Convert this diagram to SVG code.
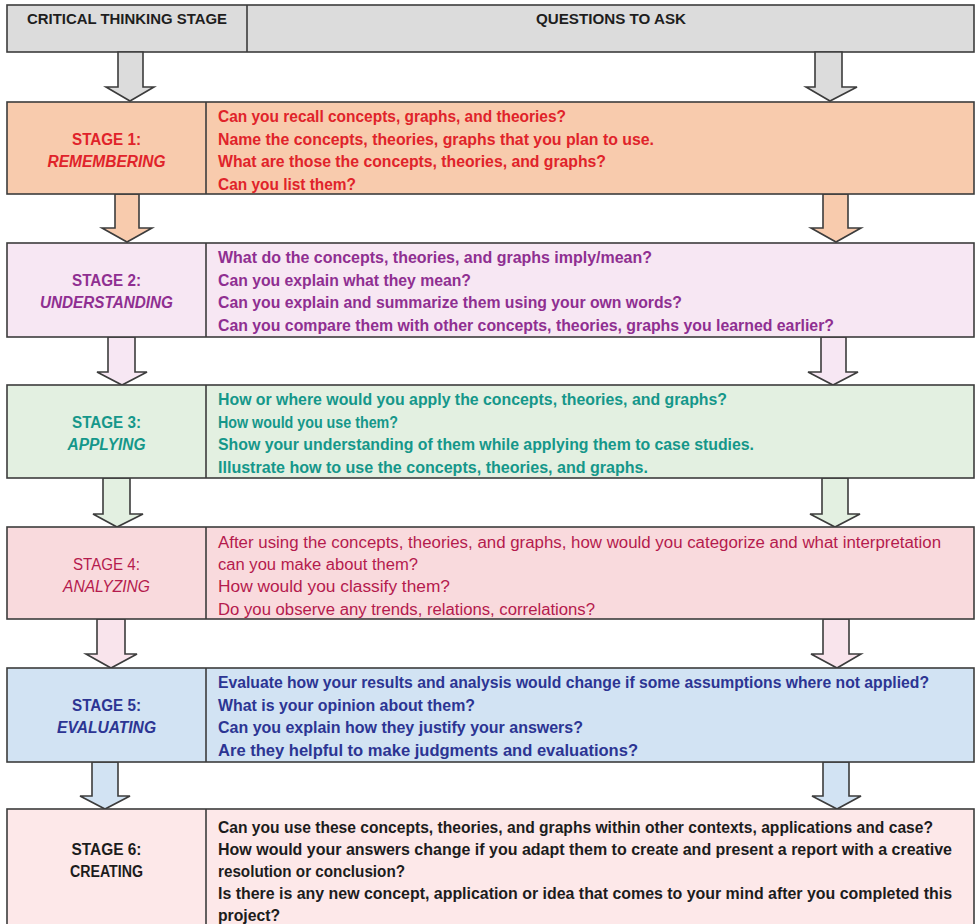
<svg xmlns="http://www.w3.org/2000/svg" width="976" height="924" viewBox="0 0 976 924">
<style>
text{font-family:"Liberation Sans",Arial,sans-serif;font-size:16px;font-weight:bold}
.box{stroke:#3c3c3c;stroke-width:1.6}
.div{stroke:#3c3c3c;stroke-width:1.6;fill:none}
.arr{stroke:#3c3c3c;stroke-width:1.6;stroke-linejoin:miter}
.hd{font-size:14px;fill:#1e1e1e}
.lbl{text-anchor:middle}
.it{font-style:italic}
.c1{fill:#e0232a}.c2{fill:#8f2f91}.c3{fill:#15978a}.c4{fill:#b51b4d;font-weight:normal}.c5{fill:#2c3593}.c6{fill:#1c1c1c}
.f0{fill:#dcdcdc}.f1{fill:#f8cbad}.f2{fill:#f7e7f3}.f3{fill:#e3f0e1}.f4{fill:#f9dadd}.f4a{fill:#f9e4ec}.f5{fill:#d2e3f3}.f6{fill:#fde8e9}
</style>

<g id="header">
<rect class="box f0" x="7" y="5" width="967" height="47"/>
<line class="div" x1="247" y1="5" x2="247" y2="52"/>
<text class="hd lbl" x="127" y="24" textLength="200" lengthAdjust="spacingAndGlyphs">CRITICAL THINKING STAGE</text>
<text class="hd lbl" x="611" y="24" textLength="150" lengthAdjust="spacingAndGlyphs">QUESTIONS TO ASK</text>
</g>

<g id="connectors">
<path class="arr f0" d="M118 52H143V87H154L130 101L106 87H118Z"/>
<path class="arr f0" d="M815 52H842V87H857L830 101L806 87H815Z"/>
<path class="arr f1" d="M115 194H139V228H152L127 242L102 228H115Z"/>
<path class="arr f1" d="M823 194H848V228H861L836 242L811 228H823Z"/>
<path class="arr f2" d="M108 337H135V372H147L122 385L97 372H108Z"/>
<path class="arr f2" d="M821 337H846V372H858L833 385L808 372H821Z"/>
<path class="arr f3" d="M103 478H130V514H143L117 527L93 514H103Z"/>
<path class="arr f3" d="M822 478H848V514H860L835 527L810 514H822Z"/>
<path class="arr f4a" d="M97 619H125V654H137L111 668L86 654H97Z"/>
<path class="arr f4a" d="M823 619H849V654H861L837 668L811 654H823Z"/>
<path class="arr f5" d="M92 762H118V796H130L105 809L80 796H92Z"/>
<path class="arr f5" d="M823 762H849V796H861L837 809L812 796H823Z"/>
</g>

<g id="stage1">
<rect class="box f1" x="7" y="102" width="967" height="92"/>
<line class="div" x1="206" y1="102" x2="206" y2="194"/>
<text class="c1 lbl" x="106.5" y="145" textLength="69" lengthAdjust="spacingAndGlyphs">STAGE 1:</text>
<text class="c1 lbl it" x="106.5" y="167" textLength="118" lengthAdjust="spacingAndGlyphs">REMEMBERING</text>
<text class="c1" x="218" y="122" textLength="348" lengthAdjust="spacingAndGlyphs">Can you recall concepts, graphs, and theories?</text>
<text class="c1" x="218" y="145" textLength="436" lengthAdjust="spacingAndGlyphs">Name the concepts, theories, graphs that you plan to use.</text>
<text class="c1" x="218" y="167" textLength="388" lengthAdjust="spacingAndGlyphs">What are those the concepts, theories, and graphs?</text>
<text class="c1" x="218" y="190" textLength="138" lengthAdjust="spacingAndGlyphs">Can you list them?</text>
</g>

<g id="stage2">
<rect class="box f2" x="7" y="243" width="967" height="94"/>
<line class="div" x1="206" y1="243" x2="206" y2="337"/>
<text class="c2 lbl" x="106.5" y="286" textLength="69" lengthAdjust="spacingAndGlyphs">STAGE 2:</text>
<text class="c2 lbl it" x="106.5" y="308" textLength="133" lengthAdjust="spacingAndGlyphs">UNDERSTANDING</text>
<text class="c2" x="218" y="263" textLength="434" lengthAdjust="spacingAndGlyphs">What do the concepts, theories, and graphs imply/mean?</text>
<text class="c2" x="218" y="286" textLength="253" lengthAdjust="spacingAndGlyphs">Can you explain what they mean?</text>
<text class="c2" x="218" y="308" textLength="464" lengthAdjust="spacingAndGlyphs">Can you explain and summarize them using your own words?</text>
<text class="c2" x="218" y="331" textLength="616" lengthAdjust="spacingAndGlyphs">Can you compare them with other concepts, theories, graphs you learned earlier?</text>
</g>

<g id="stage3">
<rect class="box f3" x="7" y="385" width="967" height="93"/>
<line class="div" x1="206" y1="385" x2="206" y2="478"/>
<text class="c3 lbl" x="106.5" y="428" textLength="69" lengthAdjust="spacingAndGlyphs">STAGE 3:</text>
<text class="c3 lbl it" x="106.5" y="450" textLength="78" lengthAdjust="spacingAndGlyphs">APPLYING</text>
<text class="c3" x="218" y="405" textLength="509" lengthAdjust="spacingAndGlyphs">How or where would you apply the concepts, theories, and graphs?</text>
<text class="c3" x="218" y="428" textLength="180" lengthAdjust="spacingAndGlyphs">How would you use them?</text>
<text class="c3" x="218" y="450" textLength="536" lengthAdjust="spacingAndGlyphs">Show your understanding of them while applying them to case studies.</text>
<text class="c3" x="218" y="473" textLength="430" lengthAdjust="spacingAndGlyphs">Illustrate how to use the concepts, theories, and graphs.</text>
</g>

<g id="stage4">
<rect class="box f4" x="7" y="527" width="967" height="92"/>
<line class="div" x1="206" y1="527" x2="206" y2="619"/>
<text class="c4 lbl" x="106.5" y="570" textLength="67" lengthAdjust="spacingAndGlyphs">STAGE 4:</text>
<text class="c4 lbl it" x="106.5" y="592" textLength="87" lengthAdjust="spacingAndGlyphs">ANALYZING</text>
<text class="c4" x="218" y="548" textLength="723" lengthAdjust="spacingAndGlyphs">After using the concepts, theories, and graphs, how would you categorize and what interpretation</text>
<text class="c4" x="218" y="570" textLength="200" lengthAdjust="spacingAndGlyphs">can you make about them?</text>
<text class="c4" x="218" y="592" textLength="232" lengthAdjust="spacingAndGlyphs">How would you classify them?</text>
<text class="c4" x="218" y="615" textLength="377" lengthAdjust="spacingAndGlyphs">Do you observe any trends, relations, correlations?</text>
</g>

<g id="stage5">
<rect class="box f5" x="7" y="668" width="967" height="94"/>
<line class="div" x1="206" y1="668" x2="206" y2="762"/>
<text class="c5 lbl" x="106.5" y="711" textLength="69" lengthAdjust="spacingAndGlyphs">STAGE 5:</text>
<text class="c5 lbl it" x="106.5" y="733" textLength="99" lengthAdjust="spacingAndGlyphs">EVALUATING</text>
<text class="c5" x="218" y="688" textLength="711" lengthAdjust="spacingAndGlyphs">Evaluate how your results and analysis would change if some assumptions where not applied?</text>
<text class="c5" x="218" y="711" textLength="257" lengthAdjust="spacingAndGlyphs">What is your opinion about them?</text>
<text class="c5" x="218" y="733" textLength="365" lengthAdjust="spacingAndGlyphs">Can you explain how they justify your answers?</text>
<text class="c5" x="218" y="756" textLength="420" lengthAdjust="spacingAndGlyphs">Are they helpful to make judgments and evaluations?</text>
</g>

<g id="stage6">
<rect class="box f6" x="7" y="809" width="967" height="125"/>
<line class="div" x1="206" y1="809" x2="206" y2="930"/>
<text class="c6 lbl" x="106.5" y="855" textLength="70" lengthAdjust="spacingAndGlyphs">STAGE 6:</text>
<text class="c6 lbl" x="106.5" y="877" textLength="73" lengthAdjust="spacingAndGlyphs">CREATING</text>
<text class="c6" x="218" y="833" textLength="715" lengthAdjust="spacingAndGlyphs">Can you use these concepts, theories, and graphs within other contexts, applications and case?</text>
<text class="c6" x="218" y="855" textLength="734" lengthAdjust="spacingAndGlyphs">How would your answers change if you adapt them to create and present a report with a creative</text>
<text class="c6" x="218" y="877" textLength="187" lengthAdjust="spacingAndGlyphs">resolution or conclusion?</text>
<text class="c6" x="218" y="899" textLength="734" lengthAdjust="spacingAndGlyphs">Is there is any new concept, application or idea that comes to your mind after you completed this</text>
<text class="c6" x="218" y="921" textLength="62" lengthAdjust="spacingAndGlyphs">project?</text>
</g>
</svg>
